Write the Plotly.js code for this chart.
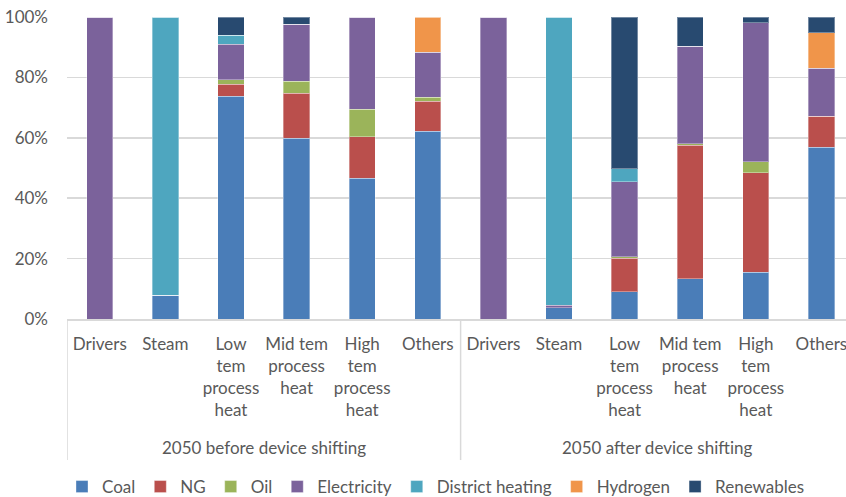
<!DOCTYPE html>
<html><head><meta charset="utf-8">
<script src="https://cdn.plot.ly/plotly-3.0.1.min.js"></script>
<style>html,body{margin:0;padding:0;background:#fff;}</style>
</head><body>
<div id="chart" style="width:846px;height:497px;"></div>
<script>
const groups = ["2050 before device shifting", "2050 after device shifting"];
const categories = ["Drivers", "Steam", "Low<br>tem<br>process<br>heat", "Mid tem<br>process<br>heat", "High<br>tem<br>process<br>heat", "Others"];
const seriesNames = ["Coal", "NG", "Oil", "Electricity", "District heating", "Hydrogen", "Renewables"];
const seriesColors = ["#4A7DB8", "#BA4F4C", "#9BB45A", "#7B629B", "#4EA6BF", "#F0954A", "#284A70"];

// 12 bars: 6 before, 6 after (percent shares)
const coal        = [0, 7.8, 73.8, 59.9, 46.6, 62.2,   0, 3.8,  9.1, 13.4, 15.4, 56.9];
const ng          = [0, 0,    3.9, 14.9, 13.8,  9.9,   0, 0,   11.1, 44.1, 33.1, 10.3];
const oil         = [0, 0,    1.6,  4.0,  9.0,  1.3,   0, 0,    0.4,  0.5,  3.5,  0];
const electricity = [100, 0, 11.7, 18.8, 30.6, 15.0, 100, 0.7, 24.9, 32.3, 46.1, 15.9];
const districtHeating = [0, 92.2, 3.0, 0, 0, 0,        0, 95.5, 4.3, 0, 0, 0];
const hydrogen    = [0, 0,    0,    0,    0,   11.6,   0, 0,    0,    0,    0,   11.7];
const renewables  = [0, 0,    6.0,  2.4,  0,    0,     0, 0,   50.2,  9.7,  1.9,  5.2];

const seriesValues = [coal, ng, oil, electricity, districtHeating, hydrogen, renewables];

const xIdx = [];
const tickText = [];
groups.forEach((g, gi) => categories.forEach((c, ci) => { xIdx.push(gi * categories.length + ci); tickText.push(c); }));

const traces = seriesNames.map((name, i) => ({
  type: "bar",
  name: name,
  x: xIdx,
  y: seriesValues[i],
  marker: { color: seriesColors[i], line: { color: "rgba(255,255,255,0.35)", width: 1 } },
  hoverinfo: "name+y"
}));

const fontFam = "Lato, 'Open Sans', sans-serif";
const txtColor = "#595959";
const gridColor = "#D9D9D9";

const shapes = [];
for (let gi = 0; gi <= groups.length; gi++) {
  shapes.push({ type: "line", xref: "x", yref: "paper", x0: gi * categories.length - 0.5, x1: gi * categories.length - 0.5,
    y0: 0, y1: -0.467, line: { color: gridColor, width: 1.5 } });
}
const annotations = groups.map((g, gi) => ({
  text: g, xref: "x", yref: "paper", x: gi * categories.length + (categories.length - 1) / 2, y: -0.427,
  showarrow: false, yanchor: "middle", xanchor: "center", font: { family: fontFam, size: 17, color: txtColor }
}));

const layout = {
  width: 846, height: 497,
  margin: { l: 67, r: 0, t: 17, b: 178, autoexpand: false },
  barmode: "stack",
  bargap: 0.6,
  paper_bgcolor: "#fff", plot_bgcolor: "#fff",
  font: { family: fontFam, size: 17, color: txtColor },
  showlegend: true,
  legend: { orientation: "h", xref: "container", yref: "container", x: 436 / 846, xanchor: "center", y: 10 / 497, yanchor: "middle",
    font: { family: fontFam, size: 17, color: txtColor }, traceorder: "normal", itemclick: false, itemwidth: 30 },
  xaxis: { type: "linear", range: [-0.5, 11.375], tickvals: xIdx, ticktext: tickText, showgrid: false, zeroline: false,
    showline: true, linecolor: gridColor, linewidth: 1.5, ticks: "", ticklabelstandoff: 9, ticklabeloverflow: "allow",
    tickfont: { family: fontFam, size: 17, color: txtColor }, fixedrange: true },
  yaxis: { range: [0, 100], tickvals: [0, 20, 40, 60, 80, 100], ticktext: ["0%", "20%", "40%", "60%", "80%", "100%"],
    showgrid: true, gridcolor: gridColor, gridwidth: 1.5, zeroline: false, showline: false, ticks: "", ticklabelstandoff: 18,
    tickfont: { family: fontFam, size: 17, color: txtColor }, fixedrange: true },
  shapes: shapes,
  annotations: annotations
};

Plotly.newPlot("chart", traces, layout, { displayModeBar: false, staticPlot: true });
</script>
</body></html>
